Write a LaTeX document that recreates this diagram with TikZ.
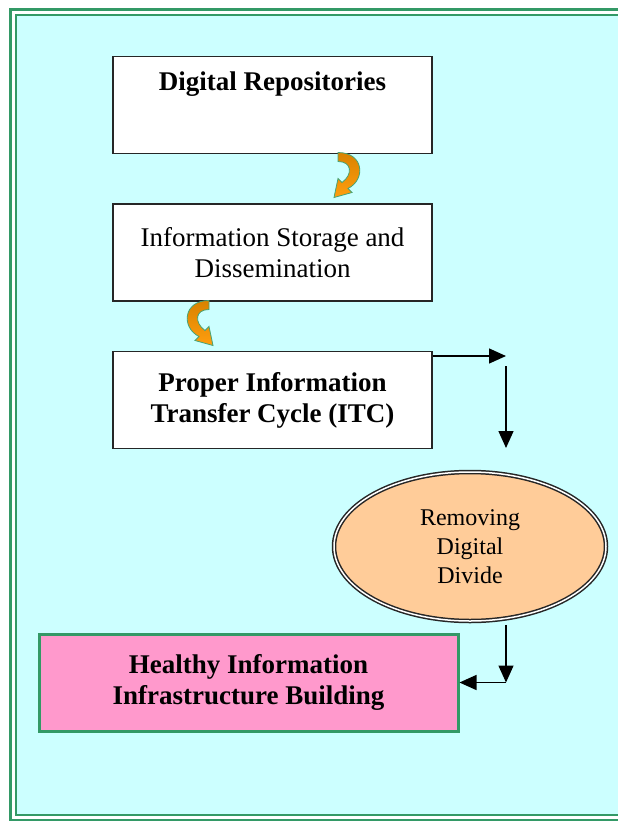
\documentclass[tikz,border=0pt]{standalone}
\usepackage{fontspec}
\setmainfont{Liberation Serif}
\usetikzlibrary{arrows.meta, calc, positioning, shapes.geometric}

\definecolor{paleCyan}{HTML}{CCFFFF}
\definecolor{frameGreen}{HTML}{339966}
\definecolor{peach}{HTML}{FFCC99}
\definecolor{rosePink}{HTML}{FF99CC}
\definecolor{darkOrange}{HTML}{D98200}
\definecolor{lightOrange}{HTML}{FF9E0F}

\begin{document}
\begin{tikzpicture}[x=1pt,y=-1pt,align=center]
\tikzstyle{stage}=[rectangle,draw=black!85,line width=1.5pt,fill=white,minimum width=319pt,minimum height=97pt,inner sep=0pt,font=\fontsize{27}{31}\selectfont]
\tikzstyle{goal}=[stage,draw=frameGreen,line width=3pt,fill=rosePink,minimum width=419pt,font=\fontsize{27}{31}\selectfont\bfseries]
\tikzstyle{oval}=[ellipse,draw=black!85,line width=1.5pt,double=white,double distance=1.5pt,fill=peach,minimum width=272pt,minimum height=149pt,inner sep=0pt,font=\fontsize{24}{29}\selectfont]
\tikzstyle{link}=[-{Triangle[length=17pt,width=15pt]},line width=1.4pt]
\tikzstyle{curl}=[draw=frameGreen!90,line width=0.8pt,top color=darkOrange,bottom color=lightOrange]

% frame and background
\useasboundingbox (0,0) rectangle (618,822);
\clip (0,0) rectangle (618,822);
\fill[white] (0,0) rectangle (618,822);
\fill[paleCyan] (16,15) rectangle (640,815);
\draw[frameGreen,line width=2.5pt] (10.5,9.5) rectangle (640,820);
\draw[frameGreen,line width=1.5pt] (16,15) rectangle (640,815);

% boxes
\node[stage] (repo) at (272.5,105) {};
\node[below = 12pt of repo.north, font=\fontsize{27}{31}\selectfont\bfseries] (repotext) {Digital Repositories};
\node[stage] (store) [below = 49pt of repo] {Information Storage and\\Dissemination};
\node[stage, font=\fontsize{27}{31}\selectfont\bfseries] (itc) [below = 49pt of store] {Proper Information\\Transfer Cycle (ITC)};
\node[oval] (divide) at (470,546.5) {Removing\\Digital\\Divide};
\node[goal] (build) at (248.5,682.5) {Healthy Information\\Infrastructure Building};

% curved arrows
\begin{scope}[shift={(338,152.5)}]
\path[curl] (0,0) .. controls (26,0) and (28,27) .. (10,36) -- (14,40) -- (-4,45) -- (0,26) -- (4,30) .. controls (15,22) and (14,9) .. (0,9) -- cycle;
\end{scope}
\begin{scope}[shift={(209,300.5)},xscale=-1]
\path[curl] (0,0) .. controls (26,0) and (28,27) .. (10,36) -- (14,40) -- (-4,45) -- (0,26) -- (4,30) .. controls (15,22) and (14,9) .. (0,9) -- cycle;
\end{scope}

% straight arrows
\coordinate (bend1) at (506,356);
\coordinate (drop) at (506,448);
\coordinate (bend2) at (506,682.5);
\draw[link] (itc.east |- bend1) -- (bend1);
\draw[link] ([yshift=-10pt]bend1) -- (drop);
\draw[link] ($(divide.south -| bend2)+(0,3)$) -- (bend2);
\draw[link] (bend2) -- (build.east);
\end{tikzpicture}
\end{document}
